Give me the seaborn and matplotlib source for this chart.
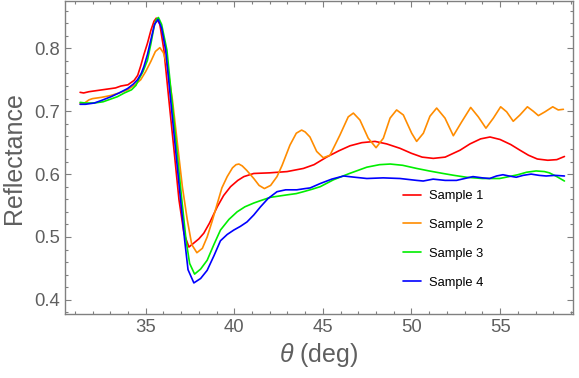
import numpy as np
import pandas as pd
import matplotlib
matplotlib.use("Agg")
import matplotlib.pyplot as plt
from matplotlib.ticker import MultipleLocator
import seaborn as sns

# ---- data ----
samples = ["Sample 1", "Sample 2", "Sample 3", "Sample 4"]
colors = ["#ff0000", "#ff8c00", "#00ee00", "#0000ff"]

s1_theta = [31.3, 31.5, 31.8, 32.3, 32.8, 33.3, 33.6, 34.0, 34.35, 34.55, 34.72, 34.9, 35.1, 35.3,
            35.47, 35.6, 35.8, 36.03, 36.31, 36.6, 36.88, 37.16, 37.44, 37.7, 38.0, 38.28, 38.6,
            39.04, 39.4, 39.79, 40.2, 40.54, 41.1, 42.0, 42.98, 43.9, 44.5, 45.21, 45.9, 46.53,
            47.2, 47.94, 48.6, 49.35, 50.0, 50.6, 51.23, 51.9, 52.74, 53.3, 53.9, 54.43, 55.0,
            55.6, 56.12, 56.6, 57.1, 57.69, 58.2, 58.63]
s1_refl = [0.730, 0.729, 0.731, 0.733, 0.735, 0.737, 0.740, 0.742, 0.749, 0.757, 0.772, 0.790,
           0.808, 0.829, 0.843, 0.848, 0.838, 0.797, 0.718, 0.638, 0.559, 0.506, 0.484, 0.490,
           0.497, 0.506, 0.522, 0.548, 0.566, 0.580, 0.590, 0.596, 0.601, 0.602, 0.604, 0.609,
           0.615, 0.627, 0.637, 0.645, 0.650, 0.652, 0.648, 0.641, 0.633, 0.627, 0.625, 0.627,
           0.638, 0.648, 0.656, 0.659, 0.655, 0.647, 0.638, 0.630, 0.624, 0.622, 0.623, 0.628]

s2_theta = [31.3, 31.55, 31.8, 32.0, 32.5, 33.04, 33.5, 33.98, 34.35, 34.72, 35.0, 35.29, 35.55,
            35.8, 36.0, 36.23, 36.51, 36.79, 37.07, 37.35, 37.6, 37.89, 38.2, 38.47, 38.75,
            39.04, 39.3, 39.6, 39.9, 40.1, 40.26, 40.45, 40.7, 41.1, 41.4, 41.7, 42.05, 42.41,
            42.7, 43.14, 43.5, 43.8, 44.0, 44.27, 44.65, 45.02, 45.4, 45.96, 46.43, 46.72, 47.09,
            47.56, 48.0, 48.41, 48.79, 49.16, 49.54, 50.01, 50.29, 50.67, 51.04, 51.42, 51.89,
            52.36, 52.83, 53.34, 53.77, 54.2, 54.62, 55.03, 55.37, 55.74, 56.12, 56.54, 56.87,
            57.16, 57.53, 57.97, 58.28, 58.57]
s2_refl = [0.712, 0.713, 0.718, 0.720, 0.722, 0.725, 0.729, 0.734, 0.741, 0.750, 0.763, 0.779,
           0.795, 0.801, 0.793, 0.771, 0.718, 0.649, 0.580, 0.527, 0.488, 0.475, 0.482, 0.500,
           0.525, 0.553, 0.578, 0.596, 0.610, 0.615, 0.616, 0.613, 0.606, 0.593, 0.582, 0.577,
           0.582, 0.596, 0.614, 0.646, 0.665, 0.670, 0.667, 0.659, 0.636, 0.626, 0.630, 0.662,
           0.691, 0.697, 0.686, 0.657, 0.642, 0.657, 0.689, 0.702, 0.694, 0.665, 0.652, 0.665,
           0.692, 0.705, 0.689, 0.661, 0.683, 0.706, 0.691, 0.673, 0.689, 0.707, 0.699, 0.684,
           0.694, 0.707, 0.700, 0.693, 0.699, 0.707, 0.702, 0.703]

s3_theta = [31.3, 31.6, 32.1, 32.6, 33.0, 33.4, 33.8, 34.2, 34.45, 34.6, 34.85, 35.1, 35.3, 35.47,
            35.6, 35.72, 35.9, 36.2, 36.48, 36.76, 37.04, 37.28, 37.48, 37.76, 38.1, 38.47, 38.85,
            39.22, 39.7, 40.16, 40.6, 41.1, 41.5, 42.03, 42.5, 42.98, 43.5, 43.9, 44.4, 44.85,
            45.6, 46.5, 47.48, 48.2, 48.8, 49.5, 50.29, 51.0, 51.78, 52.4, 53.1, 54.0, 54.97,
            55.5, 56.0, 56.5, 57.03, 57.5, 57.78, 58.2, 58.63]
s3_refl = [0.714, 0.713, 0.713, 0.715, 0.719, 0.723, 0.729, 0.734, 0.741, 0.750, 0.763, 0.781,
           0.808, 0.834, 0.846, 0.849, 0.838, 0.797, 0.718, 0.638, 0.559, 0.495, 0.458, 0.441,
           0.449, 0.463, 0.488, 0.511, 0.528, 0.540, 0.548, 0.554, 0.558, 0.563, 0.565, 0.567,
           0.569, 0.572, 0.576, 0.580, 0.591, 0.601, 0.611, 0.615, 0.616, 0.614, 0.609, 0.605,
           0.601, 0.598, 0.595, 0.593, 0.593, 0.596, 0.599, 0.603, 0.605, 0.604, 0.602, 0.596,
           0.589]

s4_theta = [31.3, 31.6, 32.1, 32.5, 33.04, 33.5, 33.98, 34.3, 34.54, 34.75, 34.9, 35.1, 35.29,
            35.5, 35.7, 35.9, 36.13, 36.41, 36.69, 36.97, 37.2, 37.39, 37.72, 38.1, 38.47, 38.85,
            39.22, 39.6, 39.97, 40.35, 40.72, 41.1, 41.48, 41.9, 42.41, 42.9, 43.53, 44.0, 44.28,
            44.85, 45.5, 46.17, 46.8, 47.48, 48.4, 49.35, 50.29, 50.66, 51.22, 51.9, 52.54, 53.0,
            53.47, 54.0, 54.41, 54.8, 55.16, 55.5, 55.91, 56.3, 56.75, 57.2, 57.6, 58.1, 58.63]
s4_refl = [0.711, 0.711, 0.713, 0.717, 0.723, 0.729, 0.736, 0.743, 0.750, 0.760, 0.771, 0.790,
           0.813, 0.838, 0.846, 0.832, 0.797, 0.718, 0.638, 0.559, 0.495, 0.448, 0.427, 0.434,
           0.447, 0.470, 0.494, 0.504, 0.511, 0.517, 0.524, 0.535, 0.548, 0.561, 0.572, 0.575,
           0.575, 0.577, 0.578, 0.585, 0.592, 0.597, 0.595, 0.593, 0.594, 0.593, 0.590, 0.589,
           0.592, 0.590, 0.590, 0.593, 0.596, 0.594, 0.593, 0.597, 0.599, 0.597, 0.595, 0.598,
           0.600, 0.598, 0.597, 0.598, 0.597]

x_ticks = [35, 40, 45, 50, 55]
y_ticks = [0.4, 0.5, 0.6, 0.7, 0.8]

# ---- build long table ----
frames = []
for name, th, rf in zip(samples, [s1_theta, s2_theta, s3_theta, s4_theta],
                        [s1_refl, s2_refl, s3_refl, s4_refl]):
    frames.append(pd.DataFrame({"theta": th, "refl": rf, "sample": name}))
df = pd.concat(frames, ignore_index=True)

sns.set_style("ticks")
plt.rcParams["font.family"] = ["Liberation Sans", "DejaVu Sans"]
plt.rcParams["mathtext.fontset"] = "custom"
plt.rcParams["mathtext.it"] = "Liberation Sans:italic"
plt.rcParams["mathtext.rm"] = "Liberation Sans"
plt.rcParams["lines.solid_joinstyle"] = "round"

W, H = 579, 378
fig = plt.figure(figsize=(W / 100, H / 100), dpi=100)
left, right, top, bottom = 64.5, 573.3, 1.0, 314.3
ax = fig.add_axes([left / W, 1 - bottom / H, (right - left) / W, (bottom - top) / H])

sns.lineplot(data=df, x="theta", y="refl", hue="sample", hue_order=samples,
             palette=colors, sort=False, estimator=None, linewidth=1.2,
             legend=False, ax=ax)

ax.set_xlim(30.42, 59.13)
ax.set_ylim(0.3771, 0.8752)
ax.set_xticks(x_ticks)
ax.set_yticks(y_ticks)
ax.set_xticklabels([str(v) for v in x_ticks])
ax.set_yticklabels([f"{v:.1f}" for v in y_ticks])
ax.xaxis.set_minor_locator(MultipleLocator(1))
ax.yaxis.set_minor_locator(MultipleLocator(0.02))

frame_col = "#808080"
text_col = "#5f5f5f"
for sp in ax.spines.values():
    sp.set_color(frame_col)
    sp.set_linewidth(1.0)
ax.tick_params(which="both", direction="in", top=True, right=True, color=frame_col,
               width=0.8, labelcolor=text_col, labelsize=13.3, pad=3.2)
ax.tick_params(which="major", length=4.0)
ax.tick_params(which="minor", length=2.2)

ax.set_xlabel(r"$\theta$ (deg)", fontsize=18, color=text_col, labelpad=4)
ax.set_ylabel("Reflectance", fontsize=18, color=text_col, labelpad=6)

lines = ax.get_lines()[:4]
ax.legend(lines, samples, loc="upper left", bbox_to_anchor=(403.3 / W, 1 - 190 / H),
          bbox_transform=fig.transFigure, frameon=False, fontsize=9.3,
          handlelength=1.37, handletextpad=0.6, labelspacing=1.3,
          borderpad=0, borderaxespad=0, labelcolor="black")

fig.savefig("out.png", dpi=100)
